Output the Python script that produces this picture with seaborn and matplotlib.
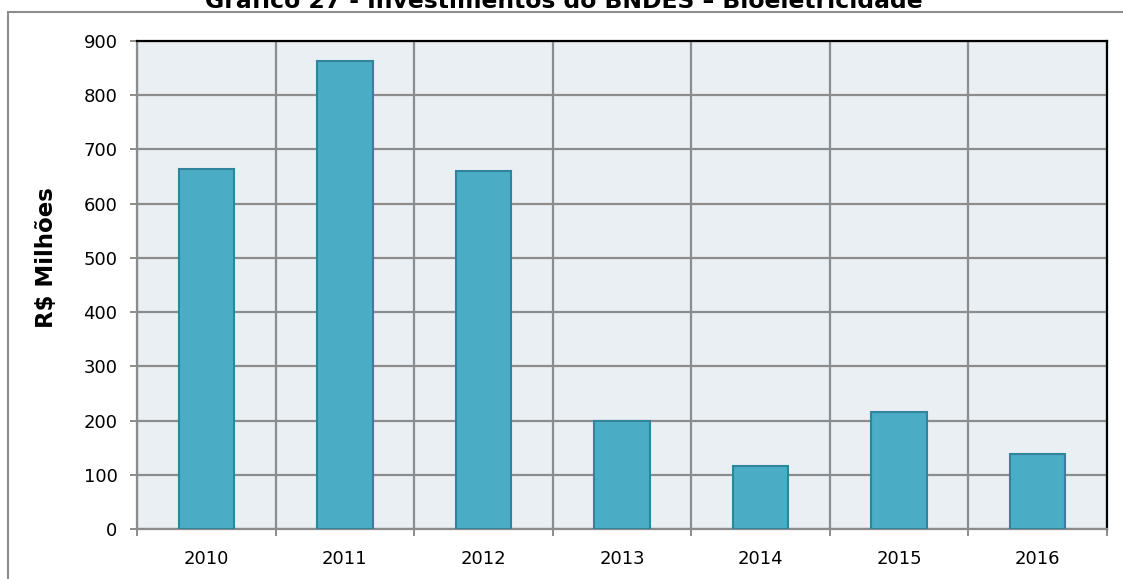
import matplotlib
matplotlib.use("Agg")
import matplotlib.pyplot as plt
from matplotlib.patches import Rectangle
from matplotlib.ticker import FixedLocator, MultipleLocator
import seaborn as sns
import pandas as pd

# Investimentos do BNDES em bioeletricidade (R$ milhões)
anos = ["2010", "2011", "2012", "2013", "2014", "2015", "2016"]
investimentos = [664, 863, 660, 199, 116, 216, 138]

titulo = "Gráfico 27 - Investimentos do BNDES – Bioeletricidade"
rotulo_y = "R$ Milhões"

df = pd.DataFrame({"ano": anos, "valor": investimentos})

sns.set_theme(style="white")
plt.rcParams["font.family"] = ["DejaVu Sans"]
plt.rcParams["text.color"] = "black"
plt.rcParams["axes.labelcolor"] = "black"
plt.rcParams["xtick.color"] = "black"
plt.rcParams["ytick.color"] = "black"

W, H = 1123, 579
fig = plt.figure(figsize=(W / 100, H / 100), dpi=100)
ax = fig.add_axes([137 / W, 1 - 529 / H, (1107 - 137) / W, (529 - 41) / H])
ax.set_facecolor("#E9EFF3")

sns.barplot(data=df, x="ano", y="valor", color="#4BACC6", width=0.4,
            edgecolor="#31849B", linewidth=1.5, saturation=1, ax=ax, zorder=3)

ax.set_xlim(-0.5, len(anos) - 0.5)
ax.set_ylim(0, 900)
ax.yaxis.set_major_locator(MultipleLocator(100))
ax.xaxis.set_minor_locator(FixedLocator([i - 0.5 for i in range(len(anos) + 1)]))

ax.grid(axis="y", which="major", color="#8C8C8C", linewidth=1.6, zorder=1)
ax.grid(axis="x", which="minor", color="#8C8C8C", linewidth=1.6, zorder=1)
ax.set_axisbelow(True)

for side in ["left", "bottom"]:
    ax.spines[side].set_color("#8C8C8C")
    ax.spines[side].set_linewidth(1.6)
for side in ["top", "right"]:
    ax.spines[side].set_color("black")
    ax.spines[side].set_linewidth(1.6)

ax.tick_params(axis="y", which="major", direction="out", length=5, width=1.4,
               color="#8C8C8C", labelcolor="black", labelsize=13, pad=9, left=True)
ax.tick_params(axis="x", which="major", length=0, labelsize=13, pad=15,
               labelcolor="black")
ax.tick_params(axis="x", which="minor", direction="out", length=5, width=1.4,
               color="#8C8C8C", bottom=True)

ax.set_xlabel("")
ax.set_ylabel(rotulo_y, fontsize=16.5, fontweight="bold", color="black")
ax.yaxis.set_label_coords((46 - 137) / (1107 - 137), (529 - 258) / (529 - 41))
ax.yaxis.label.set_verticalalignment("center")

# moldura externa do gráfico
fig.patches.append(Rectangle((8 / W, -0.1), 1.2, 1 - 12 / H + 0.1,
                             transform=fig.transFigure, fill=False,
                             edgecolor="#8C8C8C", linewidth=1.5))

fig.text(564 / W, 1 - 7.5 / H, titulo, ha="center", va="baseline",
         fontsize=16.9, fontweight="bold", color="black")

fig.savefig("out.png", dpi=100)
